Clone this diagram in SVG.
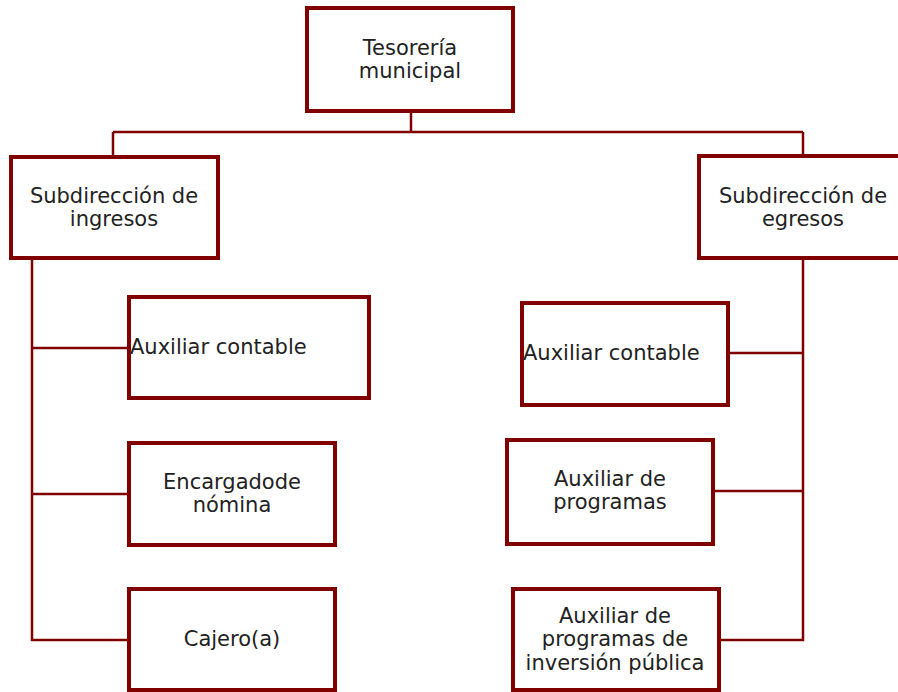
<svg xmlns="http://www.w3.org/2000/svg" width="898" height="692" viewBox="0 0 898 692">
<style>
.box{fill:#fff;stroke:#800000;stroke-width:4}
.ln{fill:none;stroke:#800000;stroke-width:2.5}
text{font-family:"DejaVu Sans","Open Sans",sans-serif;font-size:21px;fill:#222}
.c{text-anchor:middle}
</style>
<rect width="898" height="692" fill="#fff"/>
<g id="connectors">
<path class="ln" d="M411 111V132M113 132H803M113 132V157M803 132V156"/>
<path class="ln" d="M32 258V640H129M32 348H129M32 494H129"/>
<path class="ln" d="M803 259V640H721M728 353H803M715 491H803"/>
</g>
<g id="tesoreria"><rect class="box" x="307" y="8" width="206" height="103"/><text class="c" x="410" y="55">Tesorería</text><text class="c" x="410" y="78">municipal</text></g>
<g id="sub-ingresos"><rect class="box" x="11" y="157" width="207" height="101"/><text class="c" x="114" y="203">Subdirección de</text><text class="c" x="114" y="226">ingresos</text></g>
<g id="sub-egresos"><rect class="box" x="699" y="156" width="215" height="102"/><text class="c" x="803" y="203">Subdirección de</text><text class="c" x="803" y="226">egresos</text></g>
<g id="aux-contable-i"><rect class="box" x="129" y="297" width="240" height="101"/><text x="130" y="354">Auxiliar contable</text></g>
<g id="encargado"><rect class="box" x="129" y="443" width="206" height="102"/><text class="c" x="232" y="489">Encargadode</text><text class="c" x="232" y="512">nómina</text></g>
<g id="cajero"><rect class="box" x="129" y="589" width="206" height="101"/><text class="c" x="232" y="646">Cajero(a)</text></g>
<g id="aux-contable-e"><rect class="box" x="522" y="303" width="206" height="102"/><text x="523" y="360">Auxiliar contable</text></g>
<g id="aux-programas"><rect class="box" x="507" y="440" width="206" height="104"/><text class="c" x="610" y="486">Auxiliar de</text><text class="c" x="610" y="509">programas</text></g>
<g id="aux-inversion"><rect class="box" x="513" y="589" width="206" height="101"/><text class="c" x="615" y="623">Auxiliar de</text><text class="c" x="615" y="646">programas de</text><text class="c" x="615" y="670">inversión pública</text></g>
</svg>
